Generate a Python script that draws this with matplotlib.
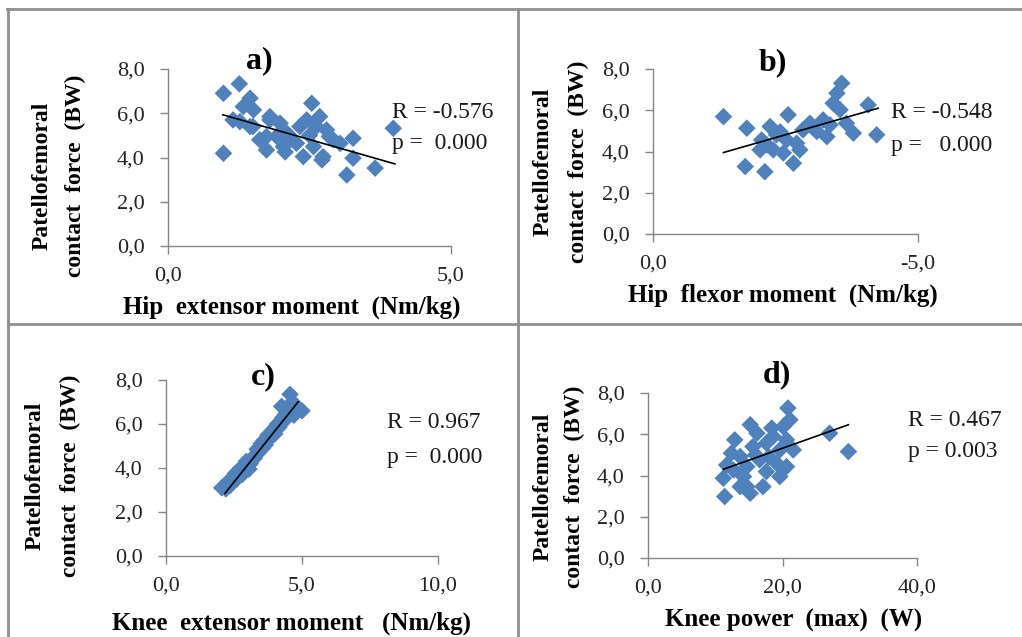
import numpy as np
import matplotlib
matplotlib.use("Agg")
from matplotlib import pyplot as plt
from matplotlib.lines import Line2D

#Data
hip_ext_x = [0.98, 1.26, 0.98, 1.45, 1.33, 1.51, 1.27, 1.45, 1.74, 1.80, 1.98, 1.74, 2.04, 2.16, 2.33, 2.54, 2.45, 2.62,
             2.80, 2.39, 2.57, 2.74, 2.92, 3.27, 3.27, 3.16, 3.66, 3.98, 1.62, 1.92, 1.15, 2.27, 2.68, 3.04, 2.07, 2.72,
             1.50, 1.80, 2.10, 2.50, 2.85]
hip_ext_y = [6.90, 7.33, 4.19, 6.68, 6.30, 6.15, 5.62, 5.40, 4.95, 5.70, 5.55, 4.34, 4.49, 4.95, 5.40, 6.45, 5.70, 5.40,
             5.25, 4.04, 4.49, 4.04, 4.80, 4.87, 3.97, 3.21, 3.52, 5.32, 4.80, 4.95, 5.70, 4.64, 5.85, 4.64, 4.25, 3.89,
             5.40, 5.85, 5.10, 5.00, 4.95]

hip_flex_x = [-1.33, -1.77, -1.74, -2.11, -2.21, -2.05, -2.33, -2.55, -2.02, -2.27, -2.65, -2.71, -2.52, -2.96, -3.09,
              -3.28, -3.21, -3.40, -3.47, -3.56, -3.53, -3.65, -3.78, -4.06, -4.22, -2.83, -2.15, -3.34, -2.46, -2.77,
              -2.40, -3.00]
hip_flex_y = [5.69, 5.13, 3.27, 3.02, 5.21, 4.56, 4.81, 5.78, 4.08, 4.08, 3.43, 4.40, 4.56, 5.37, 4.97,
              4.72, 5.53, 6.34, 6.83, 7.31, 6.02, 5.37, 4.89, 6.26, 4.81, 5.05, 4.32, 5.29, 3.93, 4.08,
              4.95, 5.20]

knee_ext_x = [2.05, 2.20, 2.35, 2.45, 2.60, 2.70, 2.80, 2.90, 3.00, 3.05, 3.15, 3.25, 3.30, 3.40, 3.45, 3.55, 3.60, 3.70,
              3.75, 3.85, 3.90, 4.00, 4.05, 4.15, 4.20, 4.30, 4.35, 4.45, 4.50, 4.56, 4.65, 4.75, 5.00, 2.95, 3.50, 4.25,
              2.30, 2.55, 2.75, 3.10, 3.35, 3.65, 3.95, 4.10, 4.40, 4.70]
knee_ext_y = [3.10, 3.05, 3.20, 3.45, 3.50, 3.80, 3.70, 4.05, 4.10, 3.95, 4.40, 4.45, 4.60, 4.70, 4.95, 4.90, 5.25, 5.20,
              5.50, 5.45, 5.60, 5.55, 5.90, 5.85, 6.10, 6.30, 6.15, 6.55, 6.80, 7.35, 7.00, 6.85, 6.60, 4.30, 5.10, 6.80,
              3.40, 3.75, 4.00, 4.20, 4.85, 5.05, 5.75, 6.00, 6.45, 6.40]

knee_pow_x = [11.4, 15.2, 13.7, 11.2, 11.7, 12.4, 12.9, 15.2, 18.4, 20.8, 21.1, 20.1, 27.0, 29.8, 19.6, 20.6, 17.6, 16.6,
              14.7, 14.2, 15.6, 17.6, 19.6, 20.6, 13.7, 16.2, 18.6, 12.7, 19.1, 21.6, 17.1, 14.7, 16.0, 18.0]
knee_pow_y = [2.98, 3.14, 3.46, 3.87, 4.51, 5.08, 5.73, 6.46, 6.30, 7.27, 6.70, 6.37, 6.05, 5.16, 3.95, 4.43, 4.19, 4.76,
              4.43, 3.95, 5.40, 5.57, 5.24, 5.73, 4.92, 6.05, 5.89, 4.27, 4.60, 5.24, 3.46, 3.46, 5.00, 4.90]

#Trend line end points
trend_a = ([0.97, 4.01], [5.93, 3.71])
trend_b = ([-1.33, -4.25], [3.95, 6.10])
trend_c = ([2.17, 4.86], [2.85, 7.01])
trend_d = ([11.2, 29.8], [4.30, 6.46])

W, H = 1022, 637
blue = '#4F81BD'
grey = '#868686'
serif = 'Liberation Serif'

fig = plt.figure(figsize=(W/100, H/100), dpi=100)
fig.patch.set_facecolor('white')


def fx(px):
    return px / W


def fy(py):
    return 1 - py / H


def make_axes(l, t, r, b, xlim, ylim, xticks):
    ax = fig.add_axes([l/W, 1 - b/H, (r - l)/W, (b - t)/H])
    ax.set_xlim(*xlim)
    ax.set_ylim(*ylim)
    ax.set_xticks(xticks)
    ax.set_yticks([0, 2, 4, 6, 8])
    ax.set_xticklabels([('%.1f' % v).replace('.', ',') for v in xticks])
    ax.set_yticklabels([('%.1f' % v).replace('.', ',') for v in [0, 2, 4, 6, 8]])
    for s in ['top', 'right']:
        ax.spines[s].set_visible(False)
    for s in ['left', 'bottom']:
        ax.spines[s].set_color(grey)
        ax.spines[s].set_linewidth(1.0)
    ax.tick_params(axis='both', direction='out', length=6, width=1.0, color=grey,
                   labelsize=16, labelcolor='#222222')
    ax.tick_params(axis='y', pad=11)
    ax.tick_params(axis='x', pad=9)
    for lab in ax.get_xticklabels() + ax.get_yticklabels():
        lab.set_fontfamily(serif)
    ax.patch.set_alpha(0)
    return ax


def draw(ax, xs, ys, trend):
    ax.scatter(xs, ys, marker='D', s=80, color=blue, edgecolors='none', clip_on=False, zorder=2)
    ax.plot(trend[0], trend[1], color='black', lw=1.2, zorder=3, clip_on=False)


def ylabel(x1, x2, yc):
    fig.text(fx(x1), fy(yc), 'Patellofemoral', rotation=90, ha='center', va='center',
             fontfamily=serif, fontweight='bold', fontsize=17)
    fig.text(fx(x2), fy(yc), 'contact  force  (BW)', rotation=90, ha='center', va='center',
             fontfamily=serif, fontweight='bold', fontsize=17)


def stats(x, y1, y2, rtxt, ptxt):
    fig.text(fx(x), fy(y1), rtxt, ha='left', va='center', fontfamily=serif, fontsize=17, color='#1a1a1a')
    fig.text(fx(x), fy(y2), ptxt, ha='left', va='center', fontfamily=serif, fontsize=17, color='#1a1a1a')


def title(x, y, txt):
    fig.text(fx(x), fy(y), txt, ha='center', va='center', fontfamily=serif, fontweight='bold', fontsize=23)


def xlabel(x, y, txt):
    fig.text(fx(x), fy(y), txt, ha='center', va='center', fontfamily=serif, fontweight='bold', fontsize=18)


#Panel a
ax1 = make_axes(168, 69, 451, 246, (0, 5), (0, 8), [0, 5])
draw(ax1, hip_ext_x, hip_ext_y, trend_a)
title(259, 61, 'a)')
ylabel(42, 75, 176)
xlabel(292, 307, 'Hip  extensor moment  (Nm/kg)')
stats(392, 112, 143, 'R = -0.576', 'p =  0.000')

#Panel b
ax2 = make_axes(653, 69, 918, 234, (0, -5), (0, 8), [0, -5])
draw(ax2, hip_flex_x, hip_flex_y, trend_b)
title(773, 63, 'b)')
ylabel(543, 578, 162)
xlabel(783, 295, 'Hip  flexor moment  (Nm/kg)')
stats(891, 112, 146, 'R = -0.548', 'p =   0.000')

#Panel c
ax3 = make_axes(166, 380, 438, 556, (0, 10), (0, 8), [0, 5, 10])
draw(ax3, knee_ext_x, knee_ext_y, trend_c)
title(263, 377, 'c)')
ylabel(35, 70, 476)
xlabel(291, 623, 'Knee  extensor moment   (Nm/kg)')
stats(387, 423, 457, 'R = 0.967', 'p =  0.000')

#Panel d
ax4 = make_axes(648, 393, 917, 558, (0, 40), (0, 8), [0, 20, 40])
draw(ax4, knee_pow_x, knee_pow_y, trend_d)
title(777, 375, 'd)')
ylabel(543, 574, 487)
xlabel(794, 620, 'Knee power  (max)  (W)')
stats(908, 420, 452, 'R = 0.467', 'p = 0.003')

#Table borders
bc = '#8f8f8f'
fig.add_artist(Line2D([fx(7), fx(W)], [fy(9), fy(9)], color=bc, lw=2))
fig.add_artist(Line2D([fx(8), fx(8)], [fy(9), fy(H)], color=bc, lw=2))
fig.add_artist(Line2D([fx(8), fx(W)], [fy(323.5), fy(323.5)], color=bc, lw=2))
fig.add_artist(Line2D([fx(517.5), fx(517.5)], [fy(9), fy(H)], color=bc, lw=2))

fig.savefig('out.png', dpi=100)
